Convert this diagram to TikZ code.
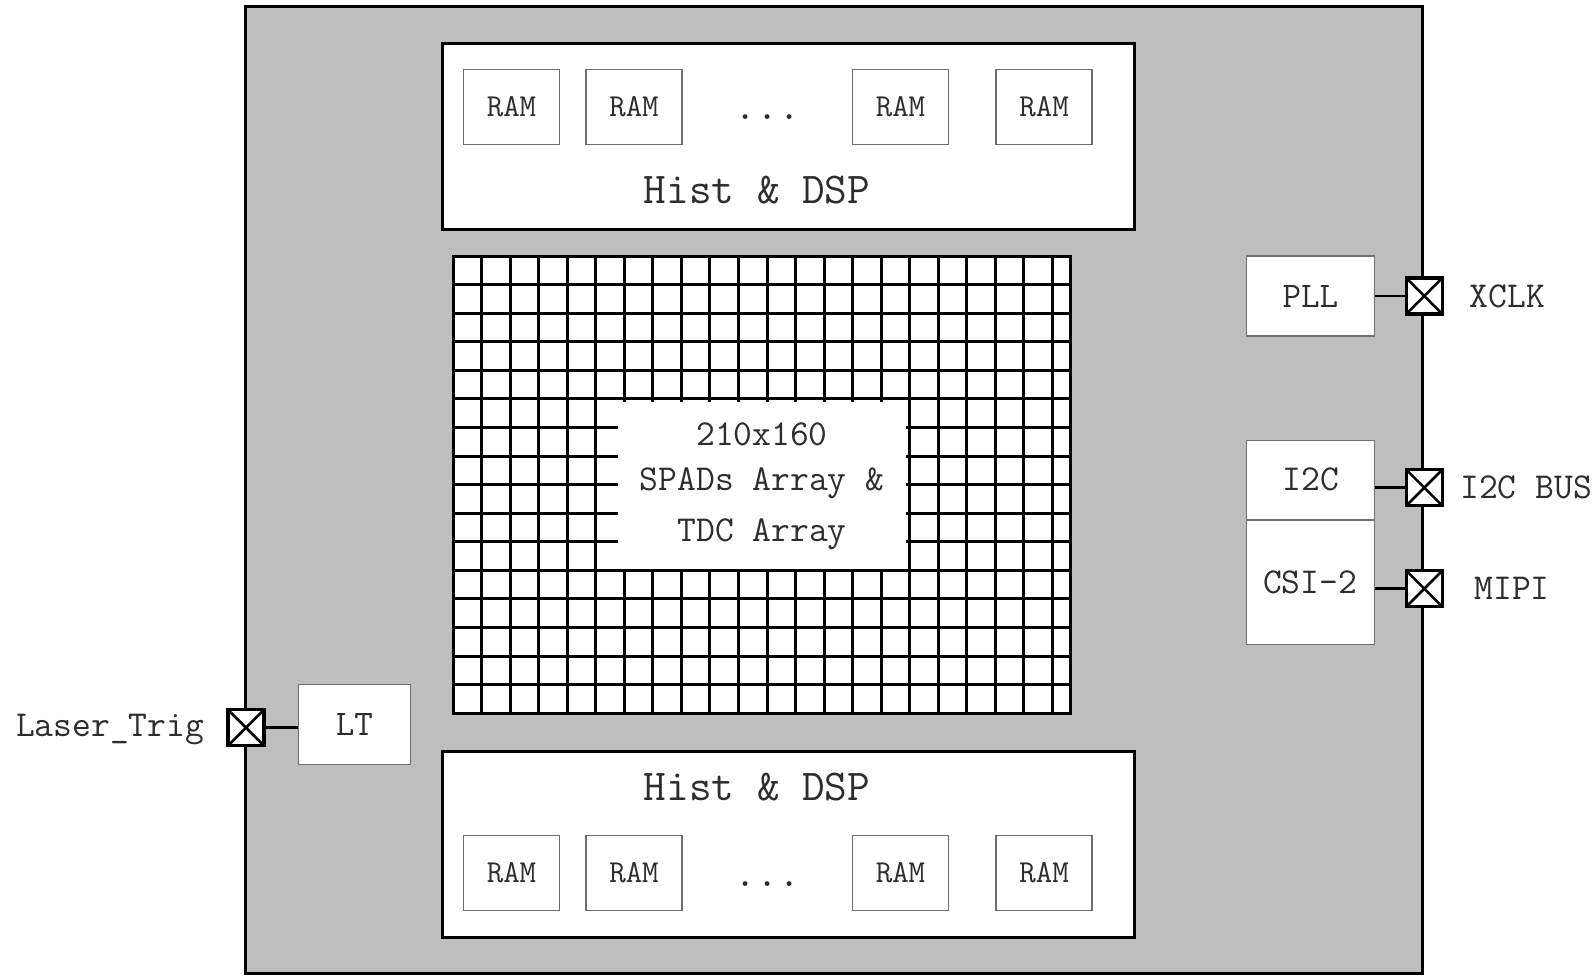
\documentclass[tikz,border=0pt]{standalone}
\usetikzlibrary{calc}
\definecolor{chipgray}{RGB}{190,190,190}
\definecolor{thinedge}{RGB}{110,110,110}
\definecolor{inktext}{RGB}{45,45,45}
\newcommand{\txt}[1]{\fontsize{#1}{#1}\selectfont\ttfamily\color{inktext}}
\tikzset{
  x=1pt,y=-1pt,
  chip/.style={fill=chipgray,draw=black,line width=3pt},
  histbox/.style={fill=white,draw=black,line width=3pt,minimum width=692pt,minimum height=186pt,inner sep=0pt},
  rambox/.style={fill=white,draw=thinedge,line width=1.2pt,minimum width=96pt,minimum height=75pt,inner sep=0pt,font=\txt{32}},
  iobox/.style={fill=white,draw=thinedge,line width=1.2pt,inner sep=0pt,font=\txt{36}},
  pad/.style={fill=white,draw=black,line width=3.4pt,minimum size=36pt,inner sep=0pt,
    path picture={\draw[line width=2.6pt] (path picture bounding box.north west)--(path picture bounding box.south east)
      (path picture bounding box.north east)--(path picture bounding box.south west);}},
  lab/.style={inner sep=0pt,font=\txt{36.5}},
  histlab/.style={inner sep=0pt,font=\txt{44}},
  gridline/.style={line width=3pt,black},
  wire/.style={line width=2.8pt,black}
}
\begin{document}
\begin{tikzpicture}
\useasboundingbox (0,0) rectangle (1596,975);
\fill[white] (0,0) rectangle (1596,975);
\draw[chip] (245.5,6) rectangle (1422,973.5);
% Hist blocks
\node[histbox] (histT) at (788,136) {};
\node[histbox] (histB) at (788,844.5) {};
\foreach \n/\x in {a/511.5,b/634,c/900.5,d/1044}{
  \node[rambox] (ramT\n) at (\x,107) {RAM};
  \node[rambox] (ramB\n) at (\x,873) {RAM};
}
\node[histlab] (histTl) at (757,190) {Hist \& DSP};
\node[histlab] (histBl) at (757,787) {Hist \& DSP};
\node[inner sep=0pt,font=\txt{43}] (dotsT) at (767.5,117) {...};
\node[inner sep=0pt,font=\txt{43}] (dotsB) at (767.5,884) {...};
% SPAD array
\fill[white] (453.2,256) rectangle (1070.7,713.3);
\foreach \k in {0,...,16}{
  \pgfmathsetmacro{\yy}{256+28.58*\k}
  \ifnum\k<6
    \draw[gridline] (453.2,\yy) -- (1070.7,\yy);
  \else\ifnum\k>10
    \draw[gridline] (453.2,\yy) -- (1070.7,\yy);
  \else
    \draw[gridline] (453.2,\yy) -- (618,\yy);
    \draw[gridline] (906,\yy) -- (1070.7,\yy);
  \fi\fi
}
\foreach \k in {0,...,21}{
  \pgfmathsetmacro{\xx}{453.2+28.53*\k}
  \ifnum\k<6
    \draw[gridline] (\xx,256) -- (\xx,713.3);
  \else\ifnum\k>15
    \draw[gridline] (\xx,256) -- (\xx,713.3);
  \else
    \draw[gridline] (\xx,256) -- (\xx,402);
    \draw[gridline] (\xx,569) -- (\xx,713.3);
  \fi\fi
}
\draw[gridline,line cap=rect] (453.2,256) rectangle (1070.7,713.3);
\node[lab,anchor=base] (arr1) at (762,445) {210x160};
\node[lab,anchor=base] (arr2) at (762,490) {SPADs Array \&};
\node[lab,anchor=base] (arr3) at (762,541) {TDC Array};
% IO blocks
\node[iobox,minimum width=128pt,minimum height=80pt] (pll) at (1310.3,296) {PLL};
\node[iobox,minimum width=128pt,minimum height=79.5pt] (i2c) at (1310.3,480.3) {};
\node[iobox,minimum width=128pt,minimum height=124.3pt] (csi) at (1310.3,582.2) {};
\node[lab] (i2cl) at (1311,479.5) {I2C};
\node[lab] (csil) at (1310,582) {CSI-2};
\node[iobox,minimum width=112pt,minimum height=80pt] (lt) at (354.3,724.5) {LT};
% Pads
\node[pad] (padX) at (1424.3,296) {};
\node[pad] (padI) at (1424.3,487.7) {};
\node[pad] (padM) at (1424.3,588.7) {};
\node[pad] (padL) at (246,727.7) {};
\draw[wire] (pll.east) -- (padX.west);
\draw[wire] (padI.west -| i2c.east) -- (padI.west);
\draw[wire] (padM.west -| csi.east) -- (padM.west);
\draw[wire] (padL.east) -- (padL.east -| lt.west);
\node[lab] (xclk) at (1507.5,296) {XCLK};
\node[lab] (i2cbus) at (1526,487) {I2C BUS};
\node[lab] (mipi) at (1512,588.5) {MIPI};
\node[lab] (ltrig) at (110,730) {Laser\_Trig};
\end{tikzpicture}
\end{document}
